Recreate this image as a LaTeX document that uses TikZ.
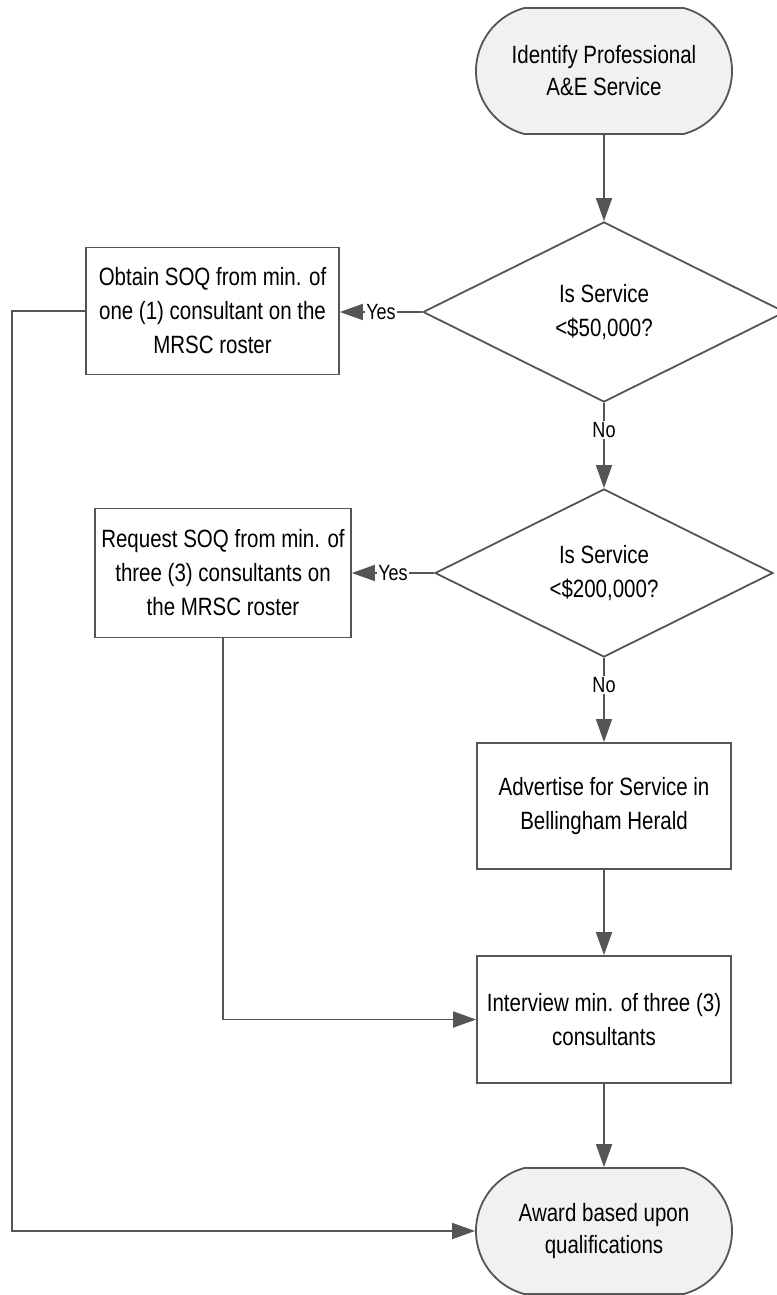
\documentclass[tikz,border=0pt]{standalone}
\usepackage{fontspec}
\setmainfont[FakeStretch=0.82]{Liberation Sans}
\usetikzlibrary{shapes.geometric,shapes.misc,arrows.meta,calc}
\definecolor{linegray}{HTML}{555555}
\definecolor{termfill}{HTML}{F1F1F1}
\begin{document}
\begin{tikzpicture}[x=1pt,y=-1pt,
  every node/.style={font=\fontsize{25}{34}\selectfont, text=black},
  term/.style={rounded rectangle, rounded rectangle arc length=150, draw=linegray, line width=1.8pt, fill=termfill, minimum width=256pt, minimum height=126pt, align=center, inner sep=0pt, font=\fontsize{25}{32}\selectfont},
  procbox/.style={rectangle, draw=linegray, line width=1.8pt, fill=white, align=center, inner sep=0pt},
  decision/.style={diamond, aspect=2, draw=linegray, line width=1.8pt, fill=white, align=center, inner sep=0pt},
  arr/.style={draw=linegray, line width=1.8pt, -{Triangle[length=23pt,width=16pt]}},
  lbl/.style={fill=white, inner sep=1pt, font=\fontsize{22}{26}\selectfont}
]
\useasboundingbox (0,0) rectangle (776,1295);

\node[term] (start) at (604,71) {Identify Professional\\A\&E Service};
\node[decision, minimum width=362pt, minimum height=180pt] (d1) at (604,312) {Is Service\\<\$50,000?};
\node[procbox, minimum width=253pt, minimum height=127pt] (b1) at (212.5,311) {Obtain SOQ from min. of\\one (1) consultant on the\\MRSC roster};
\node[decision, minimum width=338pt, minimum height=168pt] (d2) at (604,573) {Is Service\\<\$200,000?};
\node[procbox, minimum width=256pt, minimum height=129pt] (b2) at (223,573) {Request SOQ from min. of\\three (3) consultants on\\the MRSC roster};
\node[procbox, minimum width=254pt, minimum height=126pt] (adv) at (604,806) {Advertise for Service in\\Bellingham Herald};
\node[procbox, minimum width=254pt, minimum height=127pt] (int) at (604,1019.5) {Interview min. of three (3)\\consultants};
\node[term] (award) at (604,1231) {Award based upon\\qualifications};

\coordinate (leftrail) at (12,0);

\draw[arr] (start.south) -- (d1.north);
\draw[arr] (d1.west) -- node[lbl, pos=0.5]{Yes} (d1.west -| b1.east);
\draw[arr] (d1.south) -- node[lbl, pos=0.32]{No} (d2.north);
\draw[arr] (d2.west) -- node[lbl, pos=0.5]{Yes} (d2.west -| b2.east);
\draw[arr] (d2.south) -- node[lbl, pos=0.32]{No} (adv.north);
\draw[arr] (adv.south) -- (int.north);
\draw[arr] (int.south) -- (award.north);
\draw[arr] (b2.south) |- (int.west);
\draw[arr] (b1.west) -- (b1.west -| leftrail) |- (award.west);
\end{tikzpicture}
\end{document}
